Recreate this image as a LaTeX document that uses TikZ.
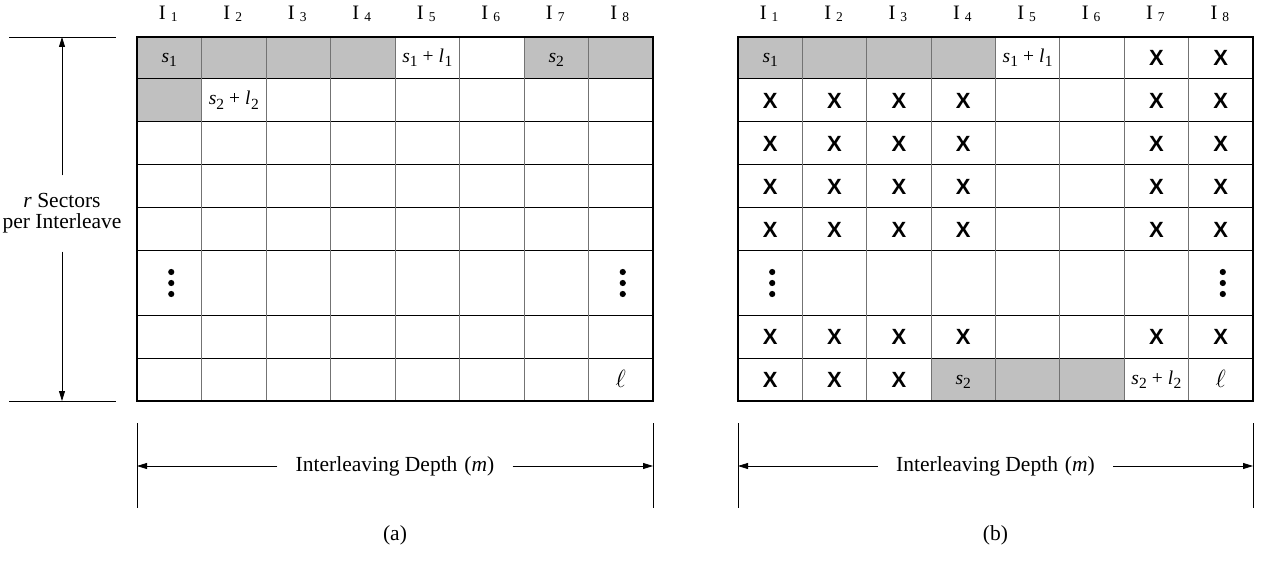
\documentclass[tikz,border=0pt]{standalone}
\usepackage{fontspec}
\setmainfont{Liberation Serif}
\newfontfamily\xfont{Liberation Sans}
\usetikzlibrary{arrows.meta}
\definecolor{cellgray}{RGB}{192,192,192}
\newcommand{\subx}[1]{\raisebox{-4.5pt}{\fontsize{15.5}{15.5}\selectfont #1}}
\newcommand{\sv}[1]{\textit{s}\subx{#1}}
\newcommand{\lv}[1]{\textit{l}\kern0.5pt\subx{#1}}
\newcommand{\pl}{\hspace{5pt}+\hspace{5pt}}
\newcommand{\ilab}[1]{I\hspace{5pt}\raisebox{-1.5pt}{\fontsize{13.5}{13.5}\selectfont #1}}
\begin{document}
\begin{tikzpicture}[x=1pt,y=-1pt,
  celltext/.style={font=\fontsize{19.5}{19.5}\selectfont, inner sep=0pt, anchor=base, yshift=-4.5pt},
  elltext/.style={font=\fontsize{24}{24}\selectfont, inner sep=0pt, anchor=base, yshift=-7.5pt},
  xmark/.style={font=\xfont\bfseries\fontsize{22}{22}\selectfont, inner sep=0pt, anchor=base, yshift=-7.8pt},
  ilabel/.style={font=\fontsize{20.5}{20.5}\selectfont, inner sep=0pt, anchor=base},
  dimlab/.style={font=\fontsize{21.5}{21}\selectfont, inner sep=0pt, align=center},
  hline/.style={line width=1pt, black},
  vline/.style={line width=1pt, black!55},
  border/.style={line width=1.3pt, black},
  thinl/.style={line width=0.8pt, black},
  dimarrow/.style={line width=0.8pt, black, -{Triangle[length=10pt,width=6pt]}},
]
\fill[white] (0,0) rectangle (1268,561);
\useasboundingbox (0,0) rectangle (1268,561);

% cell centre coordinates
\foreach \r/\yc in {1/58,2/100.5,3/143.5,4/186.5,5/229.5,6/283,7/336.5,8/379.5}{
  \foreach \c in {1,...,8}{
    \coordinate (A-\c-\r) at ({137+64.5*(\c-0.5)},\yc);
    \coordinate (B-\c-\r) at ({738+64.375*(\c-0.5)},\yc);
  }
}

% grey cells
\fill[cellgray] (137,37) rectangle (395,79);
\fill[cellgray] (524,37) rectangle (653,79);
\fill[cellgray] (137,79) rectangle (201.5,122);
\fill[cellgray] (738,37) rectangle (995.5,79);
\fill[cellgray] (931.1,358) rectangle (1124.25,401);

% grids
\foreach \xo/\w in {137/64.5,738/64.375}{
  \foreach \y in {79,122,165,208,251,315,358}
    \draw[hline] (\xo,\y) -- ({\xo+8*\w},\y);
  \foreach \i in {1,...,7}
    \draw[vline] ({\xo+\i*\w},37) -- ({\xo+\i*\w},401);
  \draw[border] (\xo,37) rectangle ({\xo+8*\w},401);
}

% column labels
\foreach \c in {1,...,8}{
  \node[ilabel] (IA-\c) at ({137+64.5*(\c-0.5)-1},20) {\ilab{\c}};
  \node[ilabel] (IB-\c) at ({738+64.375*(\c-0.5)-1},20) {\ilab{\c}};
}

% left grid contents
\node[celltext] (ta1) at (A-1-1) {\sv{1}};
\node[celltext] (ta2) at (A-5-1) {\sv{1}\pl\lv{1}};
\node[celltext] (ta3) at (A-7-1) {\sv{2}};
\node[celltext] (ta4) at (A-2-2) {\sv{2}\pl\lv{2}};
\node[elltext] (ta5) at (A-8-8) {$\ell$};
\foreach \p in {A-1-6,A-8-6,B-1-6,B-8-6}{
  \fill (\p) ++(2,-11) circle (3.1pt);
  \fill (\p) ++(2,0) circle (3.1pt);
  \fill (\p) ++(2,11) circle (3.1pt);
}

% right grid contents
\node[celltext] (tb1) at (B-1-1) {\sv{1}};
\node[celltext] (tb2) at (B-5-1) {\sv{1}\pl\lv{1}};
\node[celltext] (tb3) at (B-4-8) {\sv{2}};
\node[celltext] (tb4) at (B-7-8) {\sv{2}\pl\lv{2}};
\node[elltext] (tb5) at (B-8-8) {$\ell$};
\foreach \c/\r in {7/1,8/1,1/8,2/8,3/8}
  \node[xmark] (xB-\c-\r) at (B-\c-\r) {X};
\foreach \r in {2,3,4,5,7}
  \foreach \c in {1,2,3,4,7,8}
    \node[xmark] (xB-\c-\r) at (B-\c-\r) {X};

% vertical dimension (left)
\draw[thinl] (9,37) -- (116,37);
\draw[thinl] (9,401) -- (116,401);
\coordinate (rtop) at (62,37);
\coordinate (rbot) at (62,401);
\node[dimlab, minimum height=76pt] (rlab) at (62,213.5) {\textit{r} Sectors\\per Interleave};
\draw[dimarrow] (rlab.north) -- (rtop);
\draw[dimarrow] (rlab.south) -- (rbot);

% horizontal dimensions
\foreach \xa/\xb/\nm in {137/653/A,738/1253/B}{
  \draw[thinl] (\xa,423) -- (\xa,508);
  \draw[thinl] (\xb,423) -- (\xb,508);
  \coordinate (L\nm) at (\xa,466);
  \coordinate (R\nm) at (\xb,466);
  \node[dimlab, minimum width=235pt] (D\nm) at ({(\xa+\xb)/2},466) {Interleaving Depth\hspace{7pt}(\textit{m})};
  \draw[dimarrow] (D\nm.west) -- (L\nm);
  \draw[dimarrow] (D\nm.east) -- (R\nm);
}

% captions
\node[dimlab] (capA) at (395,535) {(a)};
\node[dimlab] (capB) at (995.5,535) {(b)};
\end{tikzpicture}
\end{document}
